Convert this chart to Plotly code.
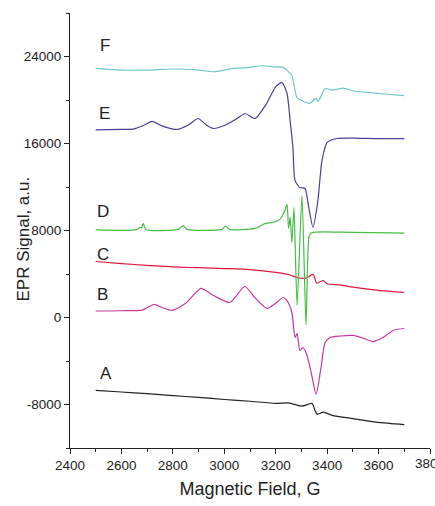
import plotly.graph_objects as go

# ---- data ----
A_x = [2500, 2600, 2700, 2800, 2900, 3000, 3100, 3200, 3250, 3300, 3330, 3342, 3352, 3362, 3385, 3420, 3500, 3600, 3700]
A_y = [-6700, -6850, -7000, -7180, -7350, -7540, -7700, -7900, -7850, -8150, -7950, -7900, -8500, -8900, -8700, -9000, -9300, -9650, -9850]

B_x = [2500, 2600, 2680, 2700, 2727, 2760, 2797, 2850, 2909, 2960, 3022, 3080, 3120, 3166, 3200, 3228, 3245, 3263, 3275, 3283, 3294, 3306, 3322, 3340, 3357, 3375, 3392, 3411, 3450, 3500, 3540, 3579, 3620, 3660, 3700]
B_y = [600, 620, 680, 900, 1200, 900, 650, 1300, 2670, 2000, 1380, 2850, 1800, 830, 1300, 1840, 1500, 460, -1840, -1470, -3030, -2760, -3500, -5300, -7080, -4800, -2300, -1840, -1700, -1650, -1900, -2210, -1800, -1150, -1010]

C_x = [2500, 2600, 2700, 2800, 2900, 3000, 3100, 3200, 3250, 3280, 3300, 3320, 3345, 3360, 3385, 3400, 3450, 3500, 3600, 3700]
C_y = [5150, 4950, 4800, 4650, 4580, 4500, 4400, 4150, 3950, 3700, 3600, 3650, 3960, 3150, 3400, 3100, 3000, 2800, 2500, 2300]

D_x = [2500, 2660, 2672, 2678, 2685, 2695, 2820, 2840, 2855, 2990, 3005, 3020, 3120, 3160, 3190, 3215, 3235, 3244, 3250, 3256, 3263, 3271, 3283, 3302, 3318, 3330, 3340, 3450, 3700]
D_y = [8050, 8080, 8300, 8250, 8650, 8100, 8100, 8450, 8100, 8100, 8400, 8100, 8200, 8650, 8750, 9000, 9800, 10400, 8200, 9200, 6900, 10100, 1100, 11200, -700, 7500, 7800, 7850, 7750]

E_x = [2500, 2600, 2650, 2690, 2719, 2760, 2816, 2860, 2898, 2930, 2957, 3000, 3050, 3081, 3120, 3160, 3200, 3224, 3244, 3256, 3267, 3275, 3294, 3314, 3326, 3345, 3364, 3380, 3400, 3438, 3500, 3600, 3700]
E_y = [17250, 17300, 17350, 17700, 18030, 17600, 17290, 17700, 18300, 17700, 17380, 17650, 18300, 18760, 18300, 19500, 21200, 21620, 20600, 18110, 15630, 12600, 11950, 11860, 10480, 8280, 10760, 14440, 16100, 16460, 16500, 16450, 16450]

F_x = [2500, 2600, 2700, 2800, 2900, 2960, 3034, 3100, 3146, 3200, 3229, 3245, 3263, 3282, 3300, 3333, 3357, 3365, 3392, 3420, 3462, 3500, 3600, 3700]
F_y = [22900, 22750, 22750, 22850, 22750, 22600, 22900, 23000, 23150, 23050, 23000, 22700, 22250, 20250, 19950, 19700, 20150, 19850, 21050, 20900, 21100, 20850, 20600, 20400]

series = [
    ("A", A_x, A_y, "#222222"),
    ("B", B_x, B_y, "#C8379E"),
    ("C", C_x, C_y, "#E3173F"),
    ("D", D_x, D_y, "#45BF45"),
    ("E", E_x, E_y, "#483F98"),
    ("F", F_x, F_y, "#6CC8C8"),
]

label_names = ["A", "B", "C", "D", "E", "F"]
label_x = [2540, 2528, 2528, 2528, 2536, 2536]
label_y = [-5150, 2116, 5800, 9750, 18770, 25020]

y_tickvals = [-8000, 0, 8000, 16000, 24000]
y_ticktext = ["-8000", "0", "8000", "16000", "24000"]
x_tickvals = [2400, 2600, 2800, 3000, 3200, 3400, 3600, 3800]

FONT = "Liberation Sans, Arial"
TICK_SIZE = 13.5

fig = go.Figure()
for name, xs, ys, col in series:
    fig.add_trace(go.Scatter(x=xs, y=ys, mode="lines", name=name,
                             line=dict(color=col, width=1.2, shape="spline", smoothing=0.6),
                             showlegend=False))

for n, lx, ly in zip(label_names, label_x, label_y):
    fig.add_annotation(x=lx, y=ly, text=n, showarrow=False,
                       font=dict(family=FONT, size=17, color="#222222"))

# last x tick label (runs past the right edge, as in the reference)
fig.add_annotation(x=x_tickvals[-1], xref="x", y=0, yref="paper", yanchor="top",
                   yshift=-6, text=str(x_tickvals[-1]), showarrow=False,
                   font=dict(family=FONT, size=TICK_SIZE, color="#222222"))

# y axis title
fig.add_annotation(x=-0.161, xref="paper", y=0.4805, yref="paper",
                   text="EPR Signal, a.u.", textangle=-90, showarrow=False,
                   font=dict(family=FONT, size=17, color="#222222"))

fig.update_layout(
    width=435, height=506,
    margin=dict(l=70, r=5, t=13, b=58),
    paper_bgcolor="white", plot_bgcolor="white",
    font=dict(family=FONT, color="#222222"),
)
fig.update_xaxes(
    range=[2400, 3800], tickvals=x_tickvals, ticktext=[str(v) for v in x_tickvals],
    showline=True, linecolor="#222222", linewidth=1.2, mirror=False,
    ticks="outside", ticklen=5, tickwidth=1, tickcolor="#222222",
    minor=dict(dtick=100, tick0=2400, ticks="outside", ticklen=3, tickcolor="#222222"),
    showgrid=False, zeroline=False,
    tickfont=dict(size=TICK_SIZE),
    title=dict(text="Magnetic Field, G", font=dict(size=18), standoff=10),
)
fig.update_yaxes(
    range=[-12000, 28000], tickvals=y_tickvals, ticktext=y_ticktext,
    showline=True, linecolor="#222222", linewidth=1.2, mirror=False,
    ticks="outside", ticklen=5, tickwidth=1, tickcolor="#222222",
    minor=dict(dtick=4000, tick0=0, ticks="outside", ticklen=3, tickcolor="#222222"),
    showgrid=False, zeroline=False,
    tickfont=dict(size=TICK_SIZE),
)

fig.write_html("out.html")
